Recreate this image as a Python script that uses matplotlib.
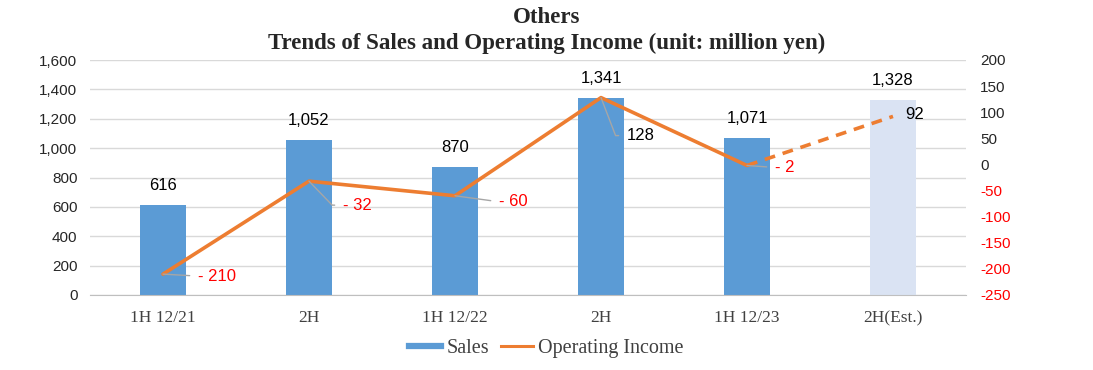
import matplotlib
matplotlib.use("Agg")
import matplotlib.pyplot as plt
from matplotlib.lines import Line2D
import numpy as np

categories = ["1H 12/21", "2H", "1H 12/22", "2H", "1H 12/23", "2H(Est.)"]
sales = [616, 1052, 870, 1341, 1071, 1328]
op_income = [-210, -32, -60, 128, -2, 92]
op_labels = ["- 210", "- 32", "- 60", "128", "- 2", "92"]
left_ticks = [0, 200, 400, 600, 800, 1000, 1200, 1400, 1600]
right_ticks = [-250, -200, -150, -100, -50, 0, 50, 100, 150, 200]

BLUE = "#5b9bd5"
LIGHT = "#dae3f3"
ORANGE = "#ed7d31"
GRID = "#d9d9d9"

fig = plt.figure(figsize=(10.93, 3.70), dpi=100)
ax = fig.add_axes([90/1093, 75/370, 876/1093, 235/370])
ax2 = ax.twinx()
ax.set_zorder(1)
ax2.set_zorder(2)
ax.patch.set_visible(False)

x = np.arange(len(categories))
colors = [BLUE]*5 + [LIGHT]
ax.bar(x, sales, width=0.31, color=colors, zorder=2)
ax.set_xlim(-0.5, len(categories)-0.5)
ax.set_ylim(0, 1600)
ax.set_yticks(left_ticks)
ax.set_yticklabels([f"{v:,}" for v in left_ticks], fontsize=11, family="Liberation Sans", color="#262626")
ax.yaxis.grid(True, color=GRID, lw=1, zorder=0)
ax.set_axisbelow(True)
ax.set_xticks(x)
ax.set_xticklabels(categories, fontsize=12.5, family="Liberation Serif", color="#404040")
ax.tick_params(axis="x", length=0, pad=11)
ax.tick_params(axis="y", length=0, pad=9)
for s in ["top", "right", "left"]:
    ax.spines[s].set_visible(False)
ax.spines["bottom"].set_color("#bfbfbf")

for xi, v in zip(x, sales):
    ax.annotate(f"{v:,}", (xi, v), xytext=(0, 12), textcoords="offset pixels",
                ha="center", va="bottom", fontsize=12, family="Liberation Sans", color="black")

ax2.set_ylim(-250, 200)
ax2.set_yticks(right_ticks)
ax2.set_yticklabels([str(v) for v in right_ticks], fontsize=11, family="Liberation Sans")
for lbl, v in zip(ax2.get_yticklabels(), right_ticks):
    lbl.set_color("#ff0000" if v < 0 else "#262626")
ax2.tick_params(axis="y", length=0, pad=10)
for s in ax2.spines.values():
    s.set_visible(False)

ax2.plot(x[:5], op_income[:5], color=ORANGE, lw=2.6, solid_capstyle="round", zorder=3)
ax2.plot(x[4:], op_income[4:], color=ORANGE, lw=2.6, linestyle=(0, (3, 2.2)), zorder=3)

offsets = [(35, -2), (34, -24), (44, -6), (26, -38), (28, -2), (12, 2)]
conns = ["arc3", "angle,angleA=0,angleB=-46,rad=0", "arc3",
         "angle,angleA=0,angleB=-69,rad=0", "arc3", None]
for xi, v, lab, off, cs in zip(x, op_income, op_labels, offsets, conns):
    kw = {}
    if cs:
        kw["arrowprops"] = dict(arrowstyle="-", color="#a6a6a6", lw=1, relpos=(0, 0.5),
                                shrinkA=4, shrinkB=0, connectionstyle=cs)
    ax2.annotate(lab, (xi, v), xytext=off, textcoords="offset pixels", ha="left", va="center",
                 fontsize=12, family="Liberation Sans",
                 color="#ff0000" if v < 0 else "black", **kw)

fig.text(0.5, 0.952, "Others", ha="center", va="center", fontsize=16.5, fontweight="bold",
         family="Liberation Serif", color="#262626")
fig.text(0.5, 0.882, "Trends of Sales and Operating Income (unit: million yen)", ha="center",
         va="center", fontsize=16.5, fontweight="bold", family="Liberation Serif", color="#262626")

handles = [Line2D([0], [0], color=BLUE, lw=4.5), Line2D([0], [0], color=ORANGE, lw=2.2)]
fig.legend(handles, ["Sales", "Operating Income"], loc="center", bbox_to_anchor=(0.5, 0.058),
           ncol=2, frameon=False, prop={"family": "Liberation Serif", "size": 14.5},
           labelcolor="#404040", handlelength=1.6, handletextpad=0.25, columnspacing=0.6)

fig.savefig("out.png", dpi=100)
